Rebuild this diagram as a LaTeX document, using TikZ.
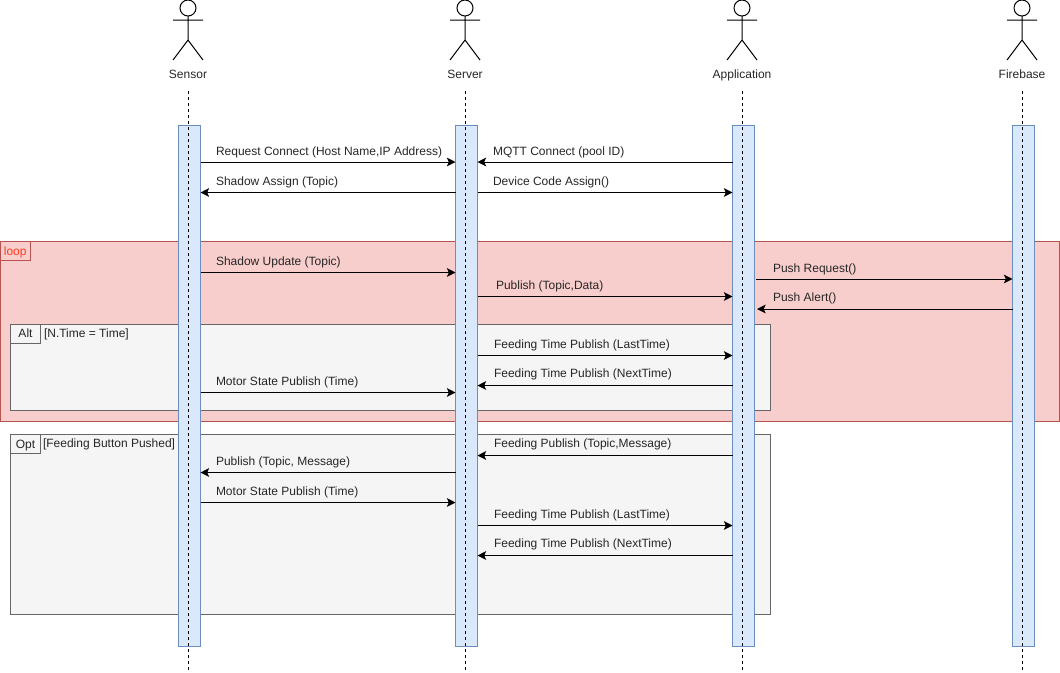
\documentclass[tikz,border=0pt]{standalone}
\usepackage{fontspec}
\setmainfont{Liberation Sans}
\usetikzlibrary{arrows.meta,calc}
\definecolor{loopfill}{HTML}{F8CECC}
\definecolor{loopline}{HTML}{B85450}
\definecolor{looptext}{HTML}{FF3D1F}
\definecolor{framefill}{HTML}{F5F5F5}
\definecolor{frameline}{HTML}{666666}
\definecolor{barfill}{HTML}{DAE8FC}
\definecolor{barline}{HTML}{6C8EBF}
\definecolor{ink}{HTML}{262626}
\tikzset{
  x=0.75pt,y=-0.75pt,
  lbl/.style={font=\fontsize{9pt}{10pt}\selectfont,text=ink,inner sep=0pt,outer sep=0pt,text height=6.6pt,text depth=2pt},
  msglabel/.style={lbl,anchor=west,yshift=-0.6pt},
  actorlabel/.style={lbl,anchor=center},
  msg/.style={draw=black,line width=0.75pt,-{Stealth[length=6.5pt,width=6.5pt,inset=1.5pt]}},
  lifeline/.style={draw=black,line width=0.75pt,dash pattern=on 2.25pt off 2.25pt},
  actorline/.style={draw=black,line width=0.75pt},
  bar/.style={draw=barline,fill=barfill,line width=0.75pt,minimum width=16.5pt,minimum height=390.75pt,inner sep=0pt,outer sep=0pt,anchor=north},
  loopbox/.style={draw=loopline,fill=loopfill,line width=0.75pt,inner sep=0pt,outer sep=0pt,anchor=north west},
  framebox/.style={draw=frameline,fill=framefill,line width=0.75pt,inner sep=0pt,outer sep=0pt,anchor=north west},
  tabtext/.style={lbl,anchor=center,yshift=-0.7pt},
}
\newcommand{\actorfig}[3]{%
  \draw[actorline] (#2,8) circle (8);
  \draw[actorline] (#2,16) -- (#2,40) (#2-15,20) -- (#2+15,20) (#2-15,60) -- (#2,40) -- (#2+15,60);
  \node[actorlabel] (#1label) at (#2,75) {#3};
}
\newcommand{\msgto}[6]{% from, to, y, label x, label y, text
  \draw[msg] (#1 |- 0,#3) -- (#2 |- 0,#3);
  \node[msglabel] at (#4,#5) {#6};
}
\begin{document}
\begin{tikzpicture}
\useasboundingbox (0,0) rectangle (1060,672);
% frames
\node[loopbox,minimum width=1059pt*0.75,minimum height=180pt*0.75] (loopframe) at (0.5,241) {};
\node[loopbox,minimum width=29.5pt*0.75,minimum height=19pt*0.75] (looptab) at (0.5,241) {};
\node[lbl,text=looptext,yshift=-1.5pt] (looptxt) at (looptab.center) {loop};
\node[framebox,minimum width=760pt*0.75,minimum height=86.5pt*0.75] (altframe) at (10.5,324) {};
\node[framebox,minimum width=30pt*0.75,minimum height=19.5pt*0.75] (alttab) at (10.5,324) {};
\node[tabtext] (alttxt) at (alttab.center) {Alt};
\node[lbl,anchor=west] (altcond) at (44,334) {[N.Time = Time]};
\node[framebox,minimum width=760pt*0.75,minimum height=179.5pt*0.75] (optframe) at (10.5,434.5) {};
\node[framebox,minimum width=30pt*0.75,minimum height=19pt*0.75] (opttab) at (10.5,434.5) {};
\node[tabtext] (opttxt) at (opttab.center) {Opt};
\node[lbl,anchor=west] (optcond) at (43,444) {[Feeding Button Pushed]};
% activation bars
\node[bar] (sb) at (189.5,125) {};
\node[bar] (vb) at (466.5,125) {};
\node[bar] (ab) at (743.5,125) {};
\node[bar] (fb) at (1023.5,125) {};
% actors
\actorfig{s}{188}{Sensor}
\actorfig{v}{465}{Server}
\actorfig{a}{742}{Application}
\actorfig{f}{1022}{Firebase}
% lifelines
\coordinate (send) at (188,672);
\coordinate (vend) at (465,672);
\coordinate (aend) at (742,672);
\coordinate (fend) at (1022,672);
\draw[lifeline] (slabel.center |- 0,91) -- (send);
\draw[lifeline] (vlabel.center |- 0,91) -- (vend);
\draw[lifeline] (alabel.center |- 0,91) -- (aend);
\draw[lifeline] (flabel.center |- 0,91) -- (fend);
% messages
\msgto{sb.east}{vb.west}{162}{216}{152}{Request Connect (Host Name,IP Address)}
\msgto{ab.west}{vb.east}{162}{493}{152}{MQTT Connect (pool ID)}
\msgto{vb.west}{sb.east}{192.5}{216}{181.5}{Shadow Assign (Topic)}
\msgto{vb.east}{ab.west}{192.5}{493}{181.5}{Device Code Assign()}
\msgto{sb.east}{vb.west}{272.5}{216}{262}{Shadow Update (Topic)}
\msgto{vb.east}{ab.west}{296.5}{496}{286}{Publish (Topic,Data)}
\draw[msg] ($(ab.east |- 0,279)+(1.5,0)$) -- (fb.west |- 0,279);
\node[msglabel] at (773,269) {Push Request()};
\draw[msg] (fb.west |- 0,309) -- ($(ab.east |- 0,309)+(2.5,0)$);
\node[msglabel] at (773,298) {Push Alert()};
\msgto{vb.east}{ab.west}{355.5}{494}{345}{Feeding Time Publish (LastTime)}
\msgto{ab.west}{vb.east}{385.5}{494}{374}{Feeding Time Publish (NextTime)}
\msgto{sb.east}{vb.west}{392.5}{216}{382}{Motor State Publish (Time)}
\msgto{ab.west}{vb.east}{455.5}{494}{444}{Feeding Publish (Topic,Message)}
\msgto{vb.west}{sb.east}{472.5}{216}{462}{Publish (Topic, Message)}
\msgto{sb.east}{vb.west}{502.5}{216}{492}{Motor State Publish (Time)}
\msgto{vb.east}{ab.west}{525.5}{494}{515}{Feeding Time Publish (LastTime)}
\msgto{ab.west}{vb.east}{555.5}{494}{544}{Feeding Time Publish (NextTime)}
\end{tikzpicture}
\end{document}
